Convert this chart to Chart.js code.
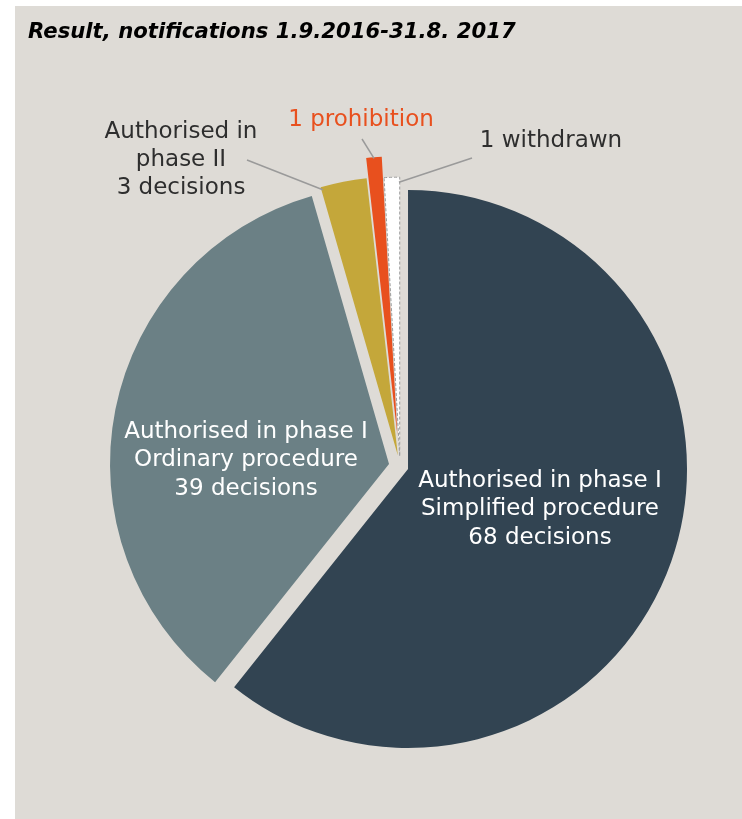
<!DOCTYPE html>
<html>
<head>
<meta charset="utf-8">
<script src="https://cdn.jsdelivr.net/npm/chart.js@4"></script>
<style>
    html, body { margin: 0; padding: 0; background: #ffffff; }
    #wrap { position: relative; width: 742px; height: 819px; }
</style>
</head>
<body>
<div id="wrap"><canvas id="resultChart" width="742" height="819"></canvas></div>
<script>
// Notification results, 1.9.2016 - 31.8.2017
const categories = [
    'Authorised in phase I Simplified procedure',
    'Authorised in phase I Ordinary procedure',
    'Authorised in phase II',
    'Prohibition',
    'Withdrawn'
];
const decisions = [68, 39, 3, 1, 1];
const sliceColors = ['#324452', '#6b8085', '#c4a73a', '#e8501e', '#ffffff'];
// how far each slice is pulled out of the pie (px)
const sliceExplode = [8.5, 11.2, 11, 31, 10];

const bgColor = '#dedbd6';
const textDark = '#2e2e2e';

// Background panel + title
const panelPlugin = {
    id: 'panel',
    beforeDraw: function(chart) {
        const ctx = chart.ctx;
        ctx.save();
        ctx.fillStyle = bgColor;
        ctx.fillRect(15, 6, chart.width - 15, chart.height - 6);
        ctx.fillStyle = '#000000';
        ctx.font = "italic bold 21.2px 'DejaVu Sans', sans-serif";
        ctx.textBaseline = 'middle';
        ctx.textAlign = 'left';
        ctx.fillText('Result, notifications 1.9.2016-31.8. 2017', 28, 32);
        ctx.restore();
    }
};

// Excel-style explode: move each arc along its bisector, keep the radius
const explodePlugin = {
    id: 'explode',
    afterDatasetsUpdate: function(chart) {
        chart.getDatasetMeta(0).data.forEach(function(arc, i) {
            const mid = (arc.startAngle + arc.endAngle) / 2;
            arc.x += Math.cos(mid) * sliceExplode[i];
            arc.y += Math.sin(mid) * sliceExplode[i];
        });
    }
};

// point on the outer edge of an arc
function arcPoint(arc, frac, inset) {
    const a = arc.startAngle + (arc.endAngle - arc.startAngle) * frac;
    const r = arc.outerRadius - inset;
    return { x: arc.x + Math.cos(a) * r, y: arc.y + Math.sin(a) * r };
}

function drawLines(ctx, lines, x, y, lh) {
    lines.forEach(function(t, i) {
        ctx.fillText(t, x, y + i * lh);
    });
}

const labelPlugin = {
    id: 'sliceLabels',
    afterDatasetsDraw: function(chart) {
        const ctx = chart.ctx;
        const arcs = chart.getDatasetMeta(0).data;
        ctx.save();

        // leader lines
        ctx.strokeStyle = '#9a9a9a';
        ctx.lineWidth = 1.5;
        const leaders = [
            {from: {x: 247, y: 160}, arc: 2, frac: 0.03, inset: 3},
            {from: {x: 362, y: 139}, arc: 3, frac: 0.5, inset: 1},
            {from: {x: 472, y: 158}, arc: 4, frac: 0.95, inset: 5}
        ];
        leaders.forEach(function(l) {
            const p = arcPoint(arcs[l.arc], l.frac, l.inset);
            ctx.beginPath();
            ctx.moveTo(l.from.x, l.from.y);
            ctx.lineTo(p.x, p.y);
            ctx.stroke();
        });

        ctx.font = "23px 'DejaVu Sans', sans-serif";
        ctx.textAlign = 'center';
        ctx.textBaseline = 'middle';

        ctx.fillStyle = '#ffffff';
        drawLines(ctx, ['Authorised in phase I', 'Simplified procedure', decisions[0] + ' decisions'], 540, 481, 28.5);
        drawLines(ctx, ['Authorised in phase I', 'Ordinary procedure', decisions[1] + ' decisions'], 246, 432, 28.5);

        ctx.fillStyle = textDark;
        drawLines(ctx, ['Authorised in', 'phase II', decisions[2] + ' decisions'], 181, 132, 28);
        ctx.fillText(decisions[4] + ' withdrawn', 551, 141);

        ctx.fillStyle = '#e8501e';
        ctx.fillText(decisions[3] + ' prohibition', 361, 120);

        ctx.restore();
    }
};

new Chart(document.getElementById('resultChart'), {
    type: 'pie',
    data: {
        labels: categories,
        datasets: [{
            data: decisions,
            backgroundColor: sliceColors,
            borderColor: ['rgba(0,0,0,0)', 'rgba(0,0,0,0)', 'rgba(0,0,0,0)', 'rgba(0,0,0,0)', '#9c9c9c'],
            borderWidth: [0, 0, 0, 0, 1],
            borderDash: [3, 2],
            hoverOffset: 0,
            radius: 279,
            clip: false
        }]
    },
    options: {
        responsive: false,
        animation: false,
        events: [],
        layout: {
            padding: { left: 58, right: 0, top: 113.4, bottom: 0 }
        },
        plugins: {
            legend: { display: false },
            tooltip: { enabled: false },
            title: { display: false }
        }
    },
    plugins: [panelPlugin, explodePlugin, labelPlugin]
});
</script>
</body>
</html>
